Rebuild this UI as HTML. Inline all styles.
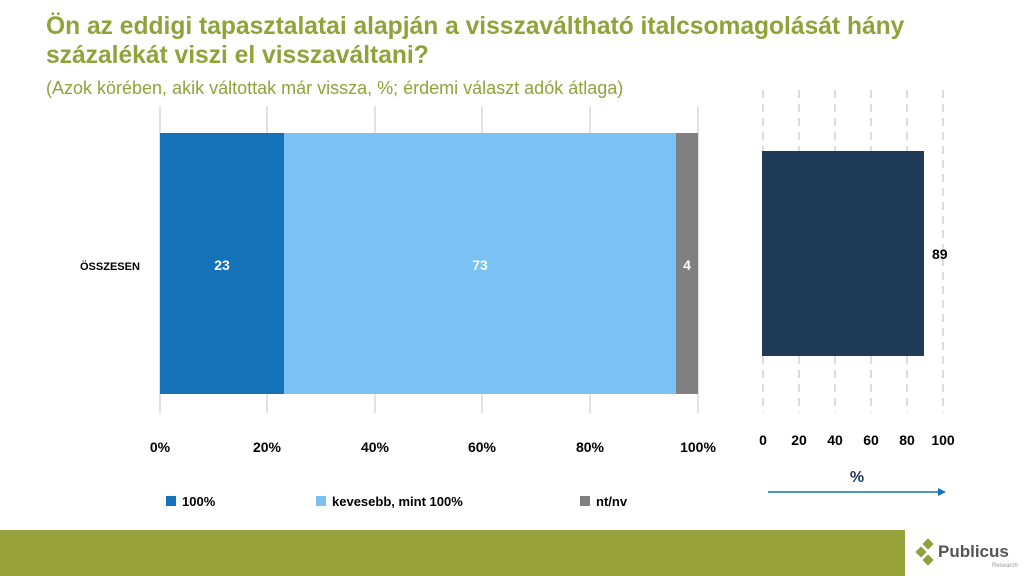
<!DOCTYPE html><html><head><style>
body{margin:0;width:1024px;height:576px;position:relative;background:#fff;font-family:"Liberation Sans",sans-serif;overflow:hidden}
.t{position:absolute;left:46px;top:12px;color:#8ea33a;font-weight:bold;font-size:24.6px;line-height:29px}
.s{position:absolute;left:46px;top:78px;color:#8ea33a;font-size:18px}
</style></head><body>
<div class="t">Ön az eddigi tapasztalatai alapján a visszaváltható italcsomagolását hány<br>százalékát viszi el visszaváltani?</div>
<div class="s">(Azok körében, akik váltottak már vissza, %; érdemi választ adók átlaga)</div>
<svg width="1024" height="576" style="position:absolute;left:0;top:0" font-family="Liberation Sans" font-weight="bold" font-size="14">
<g stroke="#d9d9d9" stroke-width="1.5">
<line x1="267" y1="106" x2="267" y2="413"/><line x1="375" y1="106" x2="375" y2="413"/><line x1="482" y1="106" x2="482" y2="413"/><line x1="590" y1="106" x2="590" y2="413"/><line x1="698" y1="106" x2="698" y2="413"/>
<line x1="160" y1="106" x2="160" y2="413"/>
</g>
<rect x="160" y="133" width="124" height="261" fill="#1372b8"/>
<rect x="284" y="133" width="392" height="261" fill="#7ac1f4"/>
<rect x="676" y="133" width="22" height="261" fill="#808080"/>
<g fill="#fff" text-anchor="middle"><text x="222" y="270">23</text><text x="480" y="270">73</text><text x="687" y="270">4</text></g>
<text x="80" y="270" font-size="11">ÖSSZESEN</text>
<g text-anchor="middle"><text x="160" y="452">0%</text><text x="267" y="452">20%</text><text x="375" y="452">40%</text><text x="482" y="452">60%</text><text x="590" y="452">80%</text><text x="698" y="452">100%</text></g>
<g stroke="#d0d0d0" stroke-width="1.5" stroke-dasharray="8,6">
<line x1="763" y1="90" x2="763" y2="413"/><line x1="799" y1="90" x2="799" y2="413"/><line x1="835" y1="90" x2="835" y2="413"/><line x1="871" y1="90" x2="871" y2="413"/><line x1="907" y1="90" x2="907" y2="413"/><line x1="943" y1="90" x2="943" y2="413"/>
</g>
<rect x="762" y="151" width="162" height="205" fill="#1f3a56"/>
<text x="932" y="259">89</text>
<g text-anchor="middle"><text x="763" y="445">0</text><text x="799" y="445">20</text><text x="835" y="445">40</text><text x="871" y="445">60</text><text x="907" y="445">80</text><text x="943" y="445">100</text></g>
<text x="857" y="482" fill="#1f3a56" text-anchor="middle" font-size="16">%</text>
<line x1="768" y1="492" x2="940" y2="492" stroke="#1372b8" stroke-width="1.5"/><polygon points="946,492 938,488 938,496" fill="#1372b8"/>
<rect x="166" y="496" width="10" height="10" fill="#1372b8"/><text x="182" y="506" font-size="13">100%</text>
<rect x="316" y="496" width="10" height="10" fill="#7ac1f4"/><text x="332" y="506" font-size="13">kevesebb, mint 100%</text>
<rect x="580" y="496" width="10" height="10" fill="#808080"/><text x="596" y="506" font-size="13">nt/nv</text>
<rect x="0" y="530" width="1024" height="46" fill="#98a33c"/>
<rect x="905" y="530" width="119" height="46" fill="#fff"/>
<g fill="#8ea33a"><rect x="924" y="540" width="8" height="8" transform="rotate(45 928 544)"/><rect x="917" y="548" width="8" height="8" transform="rotate(45 921 552)"/><rect x="924" y="556" width="8" height="8" transform="rotate(45 928 560)"/></g>
<text x="938" y="557" fill="#555" font-size="17">Publicus</text>
<text x="992" y="567" fill="#999" font-size="6" font-weight="normal">Research</text>
</svg>
</body></html>
